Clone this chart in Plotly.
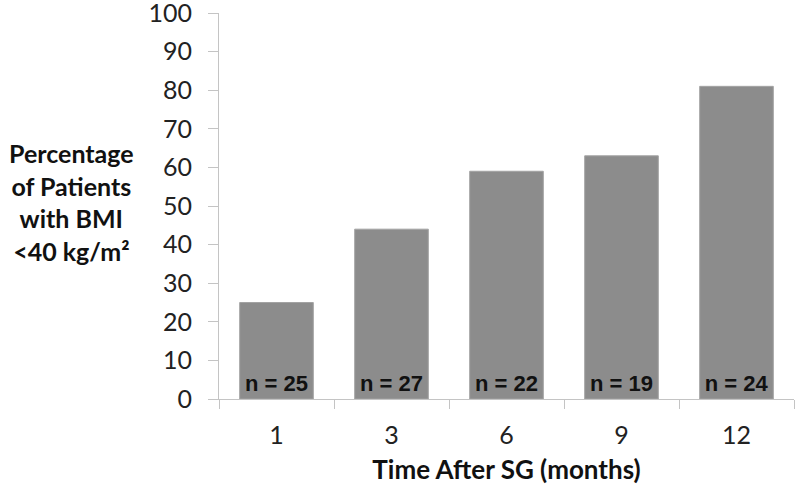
import plotly.graph_objects as go

months = ["1", "3", "6", "9", "12"]
percentages = [25, 44, 59, 63, 81]
n_counts = [25, 27, 22, 19, 24]
y_ticks = [0, 10, 20, 30, 40, 50, 60, 70, 80, 90, 100]

FONT = "Lato"
AXIS_GRAY = "#c4c4c4"

fig = go.Figure()
fig.add_trace(go.Bar(
    x=months,
    y=percentages,
    marker=dict(color="#8c8c8c", line=dict(color="#a3a3a3", width=1)),
    text=[f"n = {n}" for n in n_counts],
    textposition="inside",
    insidetextanchor="start",
    textangle=0,
    constraintext="none",
    textfont=dict(family="Liberation Sans", size=22, color="#111111", weight="bold"),
    width=0.64,
    hoverinfo="skip",
))

fig.update_layout(
    width=800, height=498,
    margin=dict(l=219, r=6, t=13, b=99),
    paper_bgcolor="white", plot_bgcolor="white",
    showlegend=False,
    font=dict(family=FONT, color="#222222"),
    xaxis=dict(
        type="category",
        range=[-0.5, 4.5],
        automargin=False,
        showline=True, linecolor=AXIS_GRAY, linewidth=1,
        ticks="outside", tickson="boundaries", ticklen=9, tickcolor=AXIS_GRAY,
        ticklabelstandoff=14, ticklabeloverflow="allow",
        tickfont=dict(family=FONT, size=25, color="#222222"),
        showgrid=False, zeroline=False,
        title=dict(text="<b>Time After SG (months)</b>",
                   font=dict(family=FONT, size=26, color="#111111"), standoff=12),
    ),
    yaxis=dict(
        range=[0, 100],
        tickvals=y_ticks,
        automargin=False,
        showline=True, linecolor=AXIS_GRAY, linewidth=1,
        ticks="outside", ticklen=10, tickcolor=AXIS_GRAY,
        ticklabelstandoff=11, ticklabeloverflow="allow",
        tickfont=dict(family=FONT, size=25, color="#222222"),
        showgrid=False, zeroline=False,
    ),
    annotations=[dict(
        text="<b>Percentage<br>of Patients<br>with BMI<br>&lt;40 kg/m²</b>",
        xref="paper", yref="paper",
        x=-0.256, y=0.51, xanchor="center", yanchor="middle",
        showarrow=False, align="center",
        font=dict(family=FONT, size=25, color="#111111"),
    )],
)

fig.write_html("out.html", config={"displayModeBar": False},
               post_script="document.body.style.margin='0';")
